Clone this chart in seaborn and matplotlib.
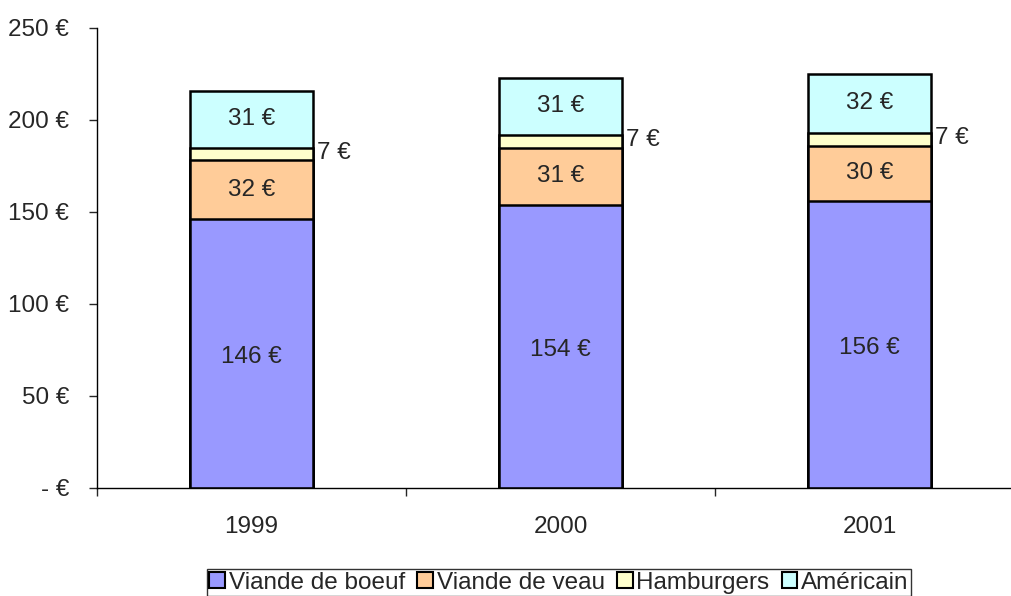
import numpy as np
import pandas as pd
import seaborn as sns
import matplotlib.pyplot as plt
from matplotlib.patches import Patch

years = ['1999', '2000', '2001']
boeuf = [146, 154, 156]
veau = [32, 31, 30]
hamburgers = [7, 7, 7]
americain = [31, 31, 32]

series = ['Viande de boeuf', 'Viande de veau', 'Hamburgers', 'Américain']
colors = ['#9999FF', '#FFCC99', '#FFFFCC', '#CCFFFF']

sns.set_style('white')
plt.rcParams['font.family'] = ['Liberation Sans', 'DejaVu Sans']
fs = 17.5

values = np.array([boeuf, veau, hamburgers, americain], dtype=float)
cum = values.cumsum(axis=0)
bottoms = cum - values

fig = plt.figure(figsize=(10.11, 5.96), dpi=100)
ax = fig.add_axes([97 / 1011, 108 / 596, 927 / 1011, 460 / 596])

# draw cumulative totals from top down so each layer covers the one above
for i in range(3, -1, -1):
    df = pd.DataFrame({'year': years, 'total': cum[i]})
    sns.barplot(data=df, x='year', y='total', color=colors[i], width=0.4,
                edgecolor='black', linewidth=1.8, saturation=1, ax=ax)

# labels
for j in range(3):
    for i in range(4):
        mid = bottoms[i, j] + values[i, j] / 2
        txt = f'{values[i, j]:.0f} €'
        if i == 2:
            ax.text(j + 0.213, mid + 0.5, txt, ha='left', va='center', fontsize=fs)
        else:
            ax.text(j, mid - (2 if i == 0 else 0), txt, ha='center', va='center', fontsize=fs)

ax.set_xlim(-0.5, 2.5)
ax.set_ylim(0, 250)
ax.set_yticks(range(0, 251, 50))
ax.set_yticklabels(['- €' if v == 0 else f'{v} €' for v in range(0, 251, 50)])
ax.set_xlabel('')
ax.set_ylabel('')
ax.set_xticks([-0.5, 0.5, 1.5, 2.5], minor=True)
ax.tick_params(axis='x', which='major', length=0, pad=20, labelsize=fs)
ax.tick_params(axis='x', which='minor', length=6, direction='out', bottom=True, width=1)
ax.tick_params(axis='y', length=6, direction='out', left=True, labelsize=fs, pad=14, width=1)
for s in ['top', 'right']:
    ax.spines[s].set_visible(False)
for s in ['left', 'bottom']:
    ax.spines[s].set_color('black')
    ax.spines[s].set_linewidth(1)

handles = [Patch(facecolor=c, edgecolor='black', linewidth=1.5) for c in colors]
leg = fig.legend(handles, series, loc='lower center', bbox_to_anchor=(559 / 1011, 0.0),
                 ncol=4, fontsize=fs, frameon=True, fancybox=False, handlelength=0.65,
                 handleheight=0.65, handletextpad=0.15, columnspacing=0.5,
                 borderpad=0.1, borderaxespad=0)
leg.get_frame().set_edgecolor('black')
leg.get_frame().set_linewidth(1)

fig.savefig('out.png', dpi=100)
